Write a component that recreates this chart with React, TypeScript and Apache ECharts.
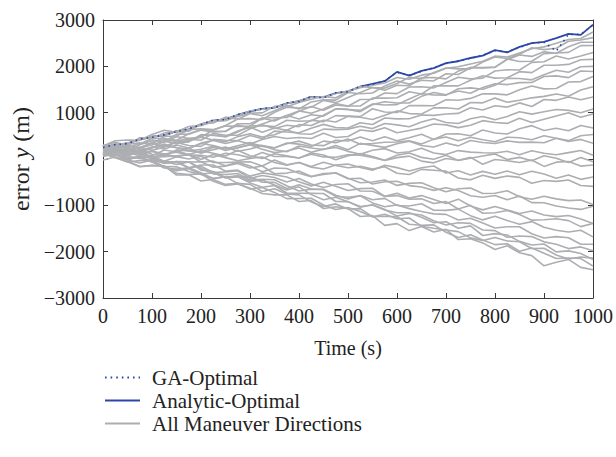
import React, { useEffect, useRef } from "react";
import * as echarts from "echarts";

const TIME = [0, 25, 50, 75, 100, 125, 150, 175, 200, 225, 250, 275, 300, 325, 350, 375, 400, 425, 450, 475, 500, 525, 550, 575, 600, 625, 650, 675, 700, 725, 750, 775, 800, 825, 850, 875, 900, 925, 950, 975, 1000];

const X_TICKS = [0, 100, 200, 300, 400, 500, 600, 700, 800, 900, 1000];
const Y_TICKS = [-3000, -2000, -1000, 0, 1000, 2000, 3000];

const ANALYTIC_OPTIMAL = [270, 300, 340, 420, 480, 510, 600, 640, 750, 830, 860, 950, 1030, 1080, 1110, 1200, 1250, 1340, 1330, 1420, 1460, 1560, 1620, 1680, 1880, 1800, 1900, 1960, 2070, 2110, 2180, 2230, 2350, 2300, 2420, 2500, 2530, 2610, 2700, 2680, 2900];

const GA_OPTIMAL = [250, 310, 330, 430, 470, 520, 590, 650, 740, 840, 850, 960, 1020, 1090, 1100, 1210, 1240, 1350, 1320, 1430, 1450, 1570, 1610, 1690, 1870, 1810, 1890, 1970, 2060, 2120, 2170, 2240, 2340, 2310, 2410, 2500, 2520, 2330, 2690, 2690, 2890];

const MANEUVER_LINES = [
  [275, 295, 345, 415, 485, 505, 605, 635, 755, 825, 865, 945, 1035, 1075, 1115, 1195, 1255, 1335, 1335, 1415, 1465, 1540, 1590, 1640, 1760, 1720, 1810, 1850, 1960, 1990, 2050, 2110, 2220, 2200, 2290, 2380, 2420, 2500, 2580, 2600, 2740],
  [200, 330, 290, 460, 450, 560, 590, 700, 720, 810, 825, 915, 990, 995, 1135, 1130, 1220, 1290, 1350, 1320, 1450, 1570, 1540, 1530, 1630, 1765, 1735, 1865, 1965, 1945, 1945, 2095, 2200, 2170, 2260, 2400, 2360, 2390, 2540, 2570, 2620],
  [150, 169, 318, 348, 327, 486, 495, 635, 654, 633, 722, 862, 871, 850, 1009, 1119, 1098, 1117, 1266, 1216, 1325, 1434, 1543, 1483, 1592, 1581, 1750, 1760, 1729, 1898, 1977, 1967, 1986, 2145, 2244, 2214, 2313, 2282, 2421, 2521, 2520],
  [280, 394, 409, 403, 527, 621, 576, 600, 754, 778, 903, 857, 981, 935, 1040, 1154, 1078, 1232, 1277, 1271, 1435, 1409, 1424, 1578, 1682, 1616, 1701, 1685, 1839, 1823, 1968, 1972, 1976, 2160, 2105, 2109, 2273, 2287, 2302, 2446, 2450],
  [100, 175, 150, 305, 400, 365, 480, 445, 470, 625, 710, 705, 710, 885, 890, 895, 1030, 1135, 1050, 1165, 1140, 1285, 1290, 1425, 1410, 1555, 1560, 1535, 1650, 1765, 1730, 1745, 1900, 1925, 1920, 2085, 2100, 2225, 2160, 2225, 2300],
  [180, 209, 349, 318, 407, 366, 536, 535, 624, 583, 593, 762, 761, 880, 820, 939, 1038, 987, 1077, 1196, 1145, 1144, 1314, 1313, 1322, 1451, 1401, 1580, 1579, 1578, 1698, 1797, 1746, 1755, 1885, 1864, 2023, 2022, 2042, 2141, 2150],
  [60, 119, 197, 156, 234, 383, 351, 370, 508, 517, 475, 584, 712, 721, 699, 838, 816, 825, 943, 1082, 1070, 1049, 1187, 1166, 1174, 1293, 1411, 1380, 1378, 1517, 1535, 1504, 1592, 1741, 1739, 1708, 1816, 1915, 1873, 1992, 2000],
  [290, 292, 254, 326, 448, 440, 402, 544, 636, 598, 600, 732, 664, 756, 848, 940, 862, 954, 926, 1078, 1070, 1022, 1174, 1236, 1208, 1210, 1352, 1434, 1386, 1468, 1420, 1542, 1624, 1606, 1648, 1650, 1782, 1794, 1756, 1898, 1890],
  [110, 219, 159, 248, 347, 256, 396, 425, 404, 553, 513, 512, 651, 740, 660, 729, 698, 837, 807, 936, 925, 914, 1084, 1013, 1002, 1151, 1151, 1150, 1279, 1268, 1308, 1407, 1406, 1385, 1495, 1574, 1513, 1522, 1662, 1671, 1780],
  [190, 282, 224, 226, 358, 420, 392, 374, 526, 508, 490, 602, 684, 576, 668, 620, 742, 724, 836, 798, 920, 902, 854, 946, 1038, 980, 972, 1104, 1106, 1078, 1220, 1212, 1314, 1226, 1268, 1320, 1352, 1404, 1356, 1488, 1560],
  [150, 72, 173, 255, 186, 258, 359, 291, 272, 424, 405, 397, 508, 440, 601, 583, 564, 666, 747, 679, 670, 782, 743, 885, 866, 868, 949, 941, 972, 984, 1105, 1057, 1148, 1120, 1211, 1133, 1284, 1266, 1337, 1279, 1340],
  [280, 360, 291, 241, 301, 391, 322, 412, 472, 412, 373, 483, 543, 473, 524, 624, 544, 534, 645, 635, 645, 705, 656, 766, 736, 696, 797, 867, 787, 767, 868, 918, 848, 918, 1019, 969, 1019, 1069, 1050, 1000, 1080],
  [90, 220, 191, 121, 251, 291, 242, 222, 342, 402, 333, 393, 323, 423, 484, 444, 464, 444, 555, 465, 485, 625, 596, 676, 566, 616, 667, 757, 737, 677, 728, 828, 788, 768, 879, 789, 859, 929, 1000, 900, 970],
  [120, 86, 52, 198, 104, 70, 196, 172, 148, 254, 220, 236, 312, 288, 244, 330, 386, 302, 288, 404, 390, 476, 392, 478, 394, 460, 536, 422, 538, 544, 500, 626, 562, 538, 654, 720, 616, 662, 608, 724, 670],
  [300, 167, 234, 161, 258, 215, 302, 239, 336, 293, 220, 287, 354, 271, 238, 345, 322, 269, 386, 353, 430, 317, 334, 361, 368, 395, 322, 429, 476, 393, 470, 417, 374, 471, 458, 415, 502, 449, 396, 503, 530],
  [180, 137, 184, 101, 68, 195, 152, 229, 126, 203, 260, 167, 214, 291, 198, 155, 282, 239, 206, 293, 200, 337, 294, 251, 328, 385, 292, 259, 346, 283, 400, 357, 334, 391, 358, 365, 352, 449, 376, 423, 340],
  [190, 266, 293, 199, 245, 321, 248, 174, 210, 276, 183, 249, 305, 211, 138, 174, 240, 146, 213, 249, 165, 101, 188, 224, 130, 156, 233, 129, 95, 181, 148, 134, 130, 166, 93, 179, 125, 91, 138, 184, 80],
  [140, 178, 85, 123, 30, 108, 145, 83, 80, 38, 125, 93, 30, 138, 55, 53, 20, 128, 85, -17, 70, 118, 55, -27, 80, 128, 35, -7, 80, -32, 15, 63, 110, -12, 35, -37, 70, 18, -75, 33, -60],
  [130, 223, 265, 138, 160, 83, 175, 98, 180, 123, 65, 188, 70, 13, 115, 68, 20, 103, 45, 38, 90, 83, 35, -32, 30, 62, -45, -83, 10, -28, 35, -113, -10, -38, -75, -23, -160, -68, -55, -153, -130],
  [130, 29, -23, 66, 24, -47, 51, -1, 58, -74, -75, -67, -58, -150, -21, -123, -74, -176, -217, -129, -110, -182, -243, -135, -186, -258, -189, -151, -302, -254, -345, -267, -328, -260, -341, -263, -324, -416, -347, -439, -390],
  [210, 261, 142, 73, 174, 105, 46, 107, -12, 99, 30, -39, 12, 43, -76, -135, -74, -163, -72, -141, -190, -159, -218, -167, -306, -335, -224, -243, -262, -411, -450, -349, -418, -367, -396, -525, -464, -483, -452, -571, -590],
  [160, 84, -2, 51, 75, -51, -118, -64, -60, -176, -153, -99, -195, -151, -318, -304, -260, -376, -333, -299, -415, -511, -498, -454, -570, -526, -513, -619, -705, -641, -628, -744, -740, -686, -813, -869, -805, -861, -898, -884, -980],
  [300, 188, 117, 175, 33, 51, 70, 88, -64, -46, -148, -69, -151, -273, -195, -206, -308, -380, -312, -303, -425, -417, -539, -490, -482, -574, -606, -677, -619, -681, -793, -824, -786, -878, -800, -941, -943, -1015, -1057, -1088, -1020],
  [110, 114, -21, -87, -23, -89, -55, -190, -156, -292, -278, -253, -419, -355, -401, -496, -422, -538, -614, -549, -535, -691, -697, -802, -738, -844, -790, -875, -961, -867, -1013, -1098, -1024, -1100, -1176, -1121, -1207, -1243, -1219, -1294, -1390],
  [170, 200, 40, 10, -10, -50, -70, -190, -130, -130, -260, -240, -370, -300, -340, -390, -490, -580, -500, -590, -680, -640, -630, -810, -790, -870, -860, -960, -920, -1080, -1000, -1170, -1160, -1110, -1200, -1320, -1310, -1290, -1330, -1460, -1390],
  [120, 28, -64, -35, -27, -169, -251, -212, -324, -296, -408, -389, -381, -503, -505, -636, -558, -650, -652, -783, -865, -787, -879, -850, -1002, -1014, -966, -1107, -1109, -1081, -1223, -1314, -1236, -1328, -1410, -1351, -1473, -1537, -1577, -1538, -1680],
  [290, 169, 48, 36, 55, -86, -68, -59, -200, -321, -333, -314, -455, -436, -448, -579, -690, -651, -663, -804, -825, -796, -948, -1029, -990, -1071, -1133, -1184, -1195, -1316, -1278, -1379, -1490, -1461, -1463, -1614, -1705, -1676, -1698, -1839, -1840],
  [60, 107, 4, 31, -62, -195, -218, -191, -294, -427, -380, -383, -516, -609, -572, -735, -738, -741, -744, -917, -920, -1043, -986, -1089, -1232, -1175, -1208, -1331, -1424, -1377, -1390, -1533, -1546, -1689, -1662, -1675, -1788, -1841, -1934, -1897, -1980],
  [280, 211, 93, 144, 5, -94, -53, -61, -240, -269, -398, -356, -485, -454, -563, -671, -600, -769, -878, -826, -925, -1024, -993, -1101, -1160, -1159, -1258, -1376, -1355, -1494, -1443, -1651, -1610, -1639, -1778, -1856, -1835, -2004, -1983, -2041, -2170],
  [-20, 44, -62, -167, -143, -149, -345, -340, -476, -442, -548, -523, -649, -615, -721, -856, -852, -848, -994, -1089, -1045, -1131, -1247, -1192, -1288, -1274, -1450, -1495, -1531, -1567, -1703, -1758, -1694, -1770, -1786, -1931, -1927, -2073, -2159, -2114, -2140],
  [110, 129, -3, 45, -66, -158, -169, -271, -332, -414, -385, -527, -548, -700, -641, -753, -774, -926, -1027, -969, -1080, -1072, -1243, -1235, -1246, -1408, -1429, -1421, -1582, -1694, -1635, -1747, -1848, -1830, -1991, -1923, -2034, -2146, -2137, -2149, -2310],
  [120, 99, -42, -163, -134, -155, -306, -337, -318, -479, -570, -541, -632, -743, -774, -775, -916, -897, -1068, -1029, -1070, -1241, -1222, -1433, -1394, -1545, -1456, -1577, -1518, -1739, -1720, -1811, -1952, -1873, -2024, -2085, -2306, -2227, -2168, -2339, -2390],
];

const LEGEND_NAMES = ["GA-Optimal", "Analytic-Optimal", "All Maneuver Directions"];

const GRAY = "#adaeb1";
const BLUE = "#2c48a6";
const AXIS = "#3a3a3a";
const FONT = "'Liberation Serif', 'Times New Roman', serif";

const pair = (vals: number[]) => TIME.map((t, i) => [t, vals[i]]);

export default function App() {
  const ref = useRef<HTMLDivElement>(null);
  useEffect(() => {
    if (!ref.current) return;
    const chart = echarts.init(ref.current, undefined, { renderer: "svg" });
    const axisCommon = {
      axisLine: { show: true, onZero: false, lineStyle: { color: AXIS, width: 1 } },
      axisTick: { show: true, inside: true, length: 5, lineStyle: { color: AXIS, width: 1 } },
      splitLine: { show: false },
    };
    const series: any[] = [];
    series.push({
      name: LEGEND_NAMES[1],
      type: "line",
      data: pair(ANALYTIC_OPTIMAL),
      symbol: "none",
      showSymbol: false,
      lineStyle: { color: BLUE, width: 1.8 },
      itemStyle: { color: BLUE },
      silent: true,
      z: 2,
    });
    MANEUVER_LINES.forEach((vals) => {
      series.push({
        name: LEGEND_NAMES[2],
        type: "line",
        data: pair(vals),
        symbol: "none",
        showSymbol: false,
        lineStyle: { color: GRAY, width: 1.6 },
        itemStyle: { color: GRAY },
        silent: true,
        z: 3,
      });
    });
    series.push({
      name: LEGEND_NAMES[0],
      type: "line",
      data: pair(GA_OPTIMAL),
      symbol: "none",
      showSymbol: false,
      lineStyle: { color: BLUE, width: 1.6, type: [1.6, 4] },
      itemStyle: { color: BLUE },
      silent: true,
      z: 4,
    });
    chart.setOption({
      animation: false,
      backgroundColor: "#ffffff",
      textStyle: { fontFamily: FONT },
      grid: { left: 103, right: 21, top: 20, bottom: 159, containLabel: false },
      legend: {
        data: LEGEND_NAMES,
        orient: "vertical",
        left: 104,
        top: 367,
        padding: 0,
        itemWidth: 35,
        itemHeight: 14,
        itemGap: 2,
        selectedMode: false,
        itemStyle: { opacity: 0 },
        textStyle: { fontFamily: FONT, fontSize: 21, color: "#222", padding: [0, 0, 0, 7] },
      },
      xAxis: [
        {
          type: "value",
          min: X_TICKS[0],
          max: X_TICKS[X_TICKS.length - 1],
          interval: 100,
          position: "bottom",
          name: "Time (s)",
          nameLocation: "middle",
          nameGap: 40,
          nameTextStyle: { fontFamily: FONT, fontSize: 20, color: "#222" },
          axisLabel: { fontFamily: FONT, fontSize: 20, color: "#222", margin: 8, formatter: (v: number) => String(v) },
          ...axisCommon,
        },
        {
          type: "value",
          min: X_TICKS[0],
          max: X_TICKS[X_TICKS.length - 1],
          interval: 100,
          position: "top",
          axisLabel: { show: false },
          ...axisCommon,
        },
      ],
      yAxis: [
        {
          type: "value",
          min: Y_TICKS[0],
          max: Y_TICKS[Y_TICKS.length - 1],
          interval: 1000,
          position: "left",
          name: "{a|error }{b|y}{a| (m)}",
          nameLocation: "middle",
          nameGap: 69,
          nameTextStyle: {
            fontFamily: FONT,
            fontSize: 24,
            color: "#222",
            rich: {
              a: { fontFamily: FONT, fontSize: 24, color: "#222" },
              b: { fontFamily: FONT, fontSize: 24, color: "#222", fontStyle: "italic" },
            },
          },
          axisLabel: {
            fontFamily: FONT,
            fontSize: 20,
            color: "#222",
            margin: 8,
            formatter: (v: number) => String(v).replace("-", "\u2212"),
          },
          ...axisCommon,
        },
        {
          type: "value",
          min: Y_TICKS[0],
          max: Y_TICKS[Y_TICKS.length - 1],
          interval: 1000,
          position: "right",
          axisLabel: { show: false },
          ...axisCommon,
        },
      ],
      series,
    });
    return () => chart.dispose();
  }, []);
  return <div ref={ref} style={{ position: "absolute", left: 0, top: 0, width: 616, height: 457 }} />;
}
